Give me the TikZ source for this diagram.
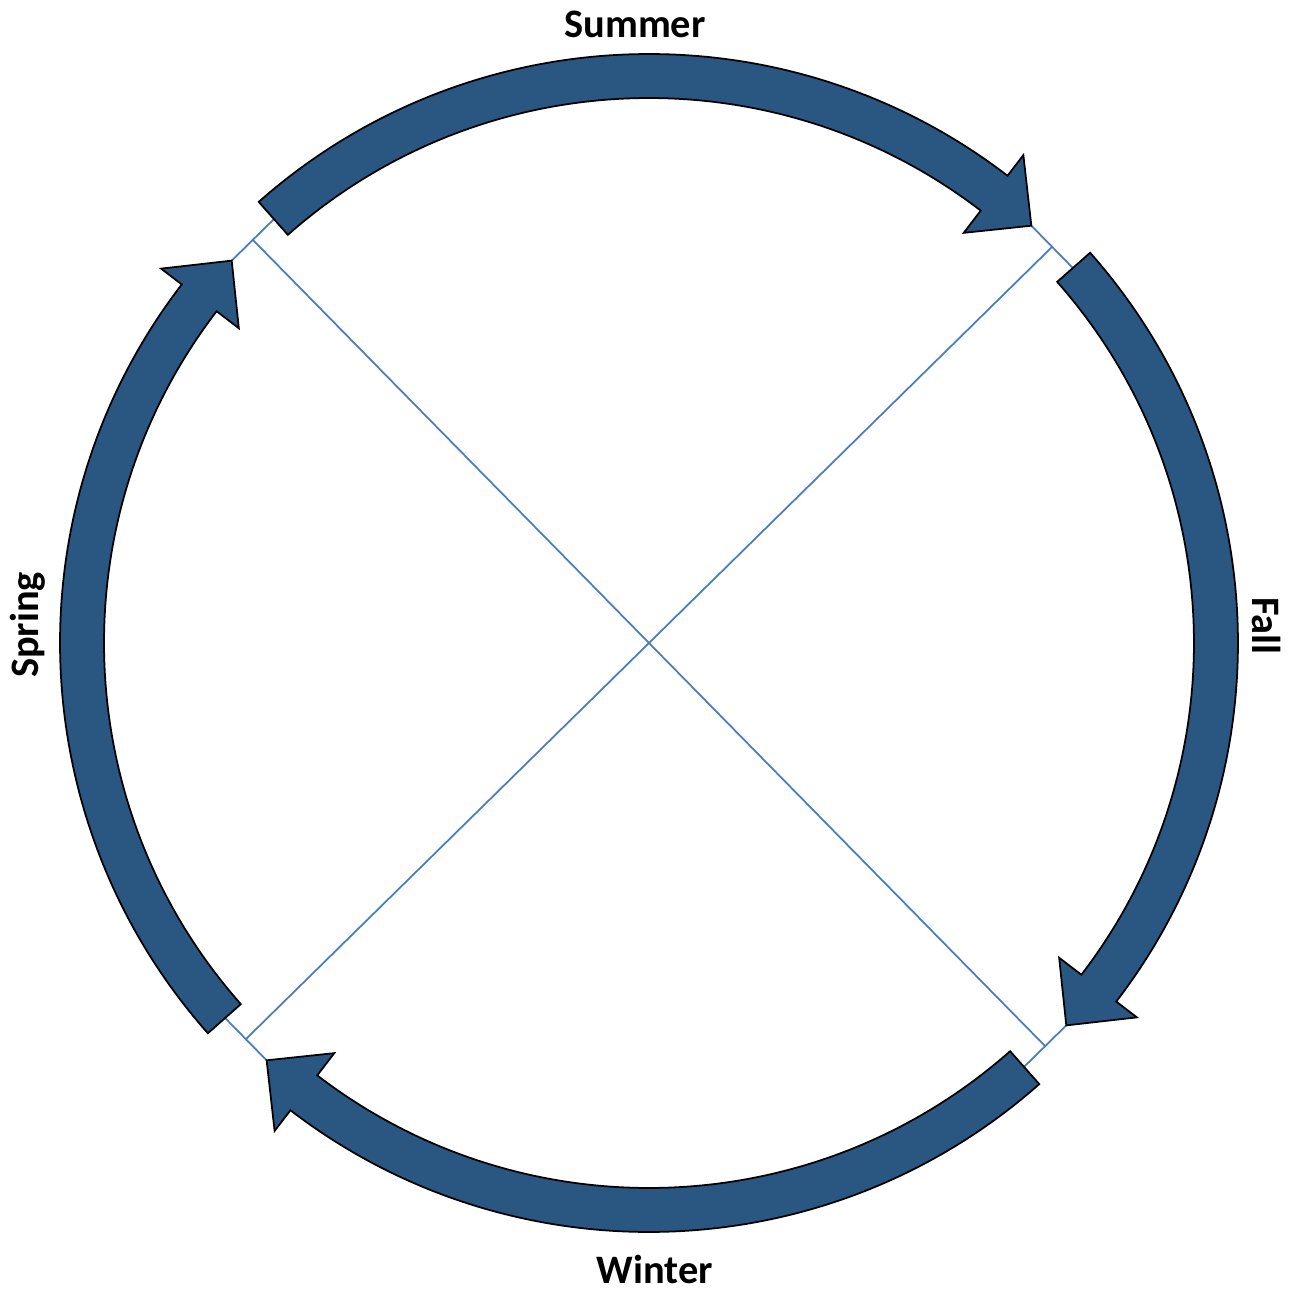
\documentclass[tikz,border=0pt]{standalone}
\usepackage{fontspec}
\setmainfont{Carlito}
\usetikzlibrary{calc}
\definecolor{arrowblue}{RGB}{41,87,130}
\definecolor{lineblue}{RGB}{74,126,187}
\tikzset{
  SeasonArrow/.style = {draw = black, fill = arrowblue, line width = 1pt, line join = miter},
  GuideLine/.style = {draw = lineblue, line width = 1pt},
  SeasonLabel/.style = {inner sep = 0pt, anchor = base, font = \fontsize{23}{28}\selectfont\bfseries}
}

\begin{document}
\begin{tikzpicture}[x=0.02cm, y=0.02cm]
    \useasboundingbox (-649,-649) rectangle (642,643);
    % arrow ends
    \foreach \j/\name in {135/sum, 45/fal, -45/win, -135/spr}{
        \pgfmathsetmacro\tail{\j-3.5}
        \pgfmathsetmacro\tip{\j-87.5}
        \coordinate (\name-tail) at (\tail:566);
        \coordinate (\name-tip) at (\tip:566);
    }
    \coordinate (j-nw) at ($(spr-tip)!0.5!(sum-tail)$);
    \coordinate (j-ne) at ($(sum-tip)!0.5!(fal-tail)$);
    \coordinate (j-se) at ($(fal-tip)!0.5!(win-tail)$);
    \coordinate (j-sw) at ($(win-tip)!0.5!(spr-tail)$);
    \draw [GuideLine] (spr-tip) -- (sum-tail);
    \draw [GuideLine] (sum-tip) -- (fal-tail);
    \draw [GuideLine] (fal-tip) -- (win-tail);
    \draw [GuideLine] (win-tip) -- (spr-tail);
    \draw [GuideLine] (j-nw) -- (j-se);
    \draw [GuideLine] (j-ne) -- (j-sw);
    % arrows
    \foreach \j in {135, 45, -45, -135}{
        \pgfmathsetmacro\tail{\j-3.5}
        \pgfmathsetmacro\base{\j-82.5}
        \pgfmathsetmacro\tip{\j-87.5}
        \draw [SeasonArrow] (\tail:589) arc [start angle=\tail, end angle=\base, radius=589]
            -- (\base:615) -- (\tip:566) -- (\base:517) -- (\base:545)
            arc [start angle=\base, end angle=\tail, radius=545] -- cycle;
    }
    % labels
    \node [SeasonLabel] (summer) at (-14,605) {Summer};
    \node [SeasonLabel, rotate=-90] (fall) at (603,17) {Fall};
    \node [SeasonLabel] (winter) at (6,-640) {Winter};
    \node [SeasonLabel, rotate=90] (spring) at (-610,18) {Spring};
\end{tikzpicture}
\end{document}
